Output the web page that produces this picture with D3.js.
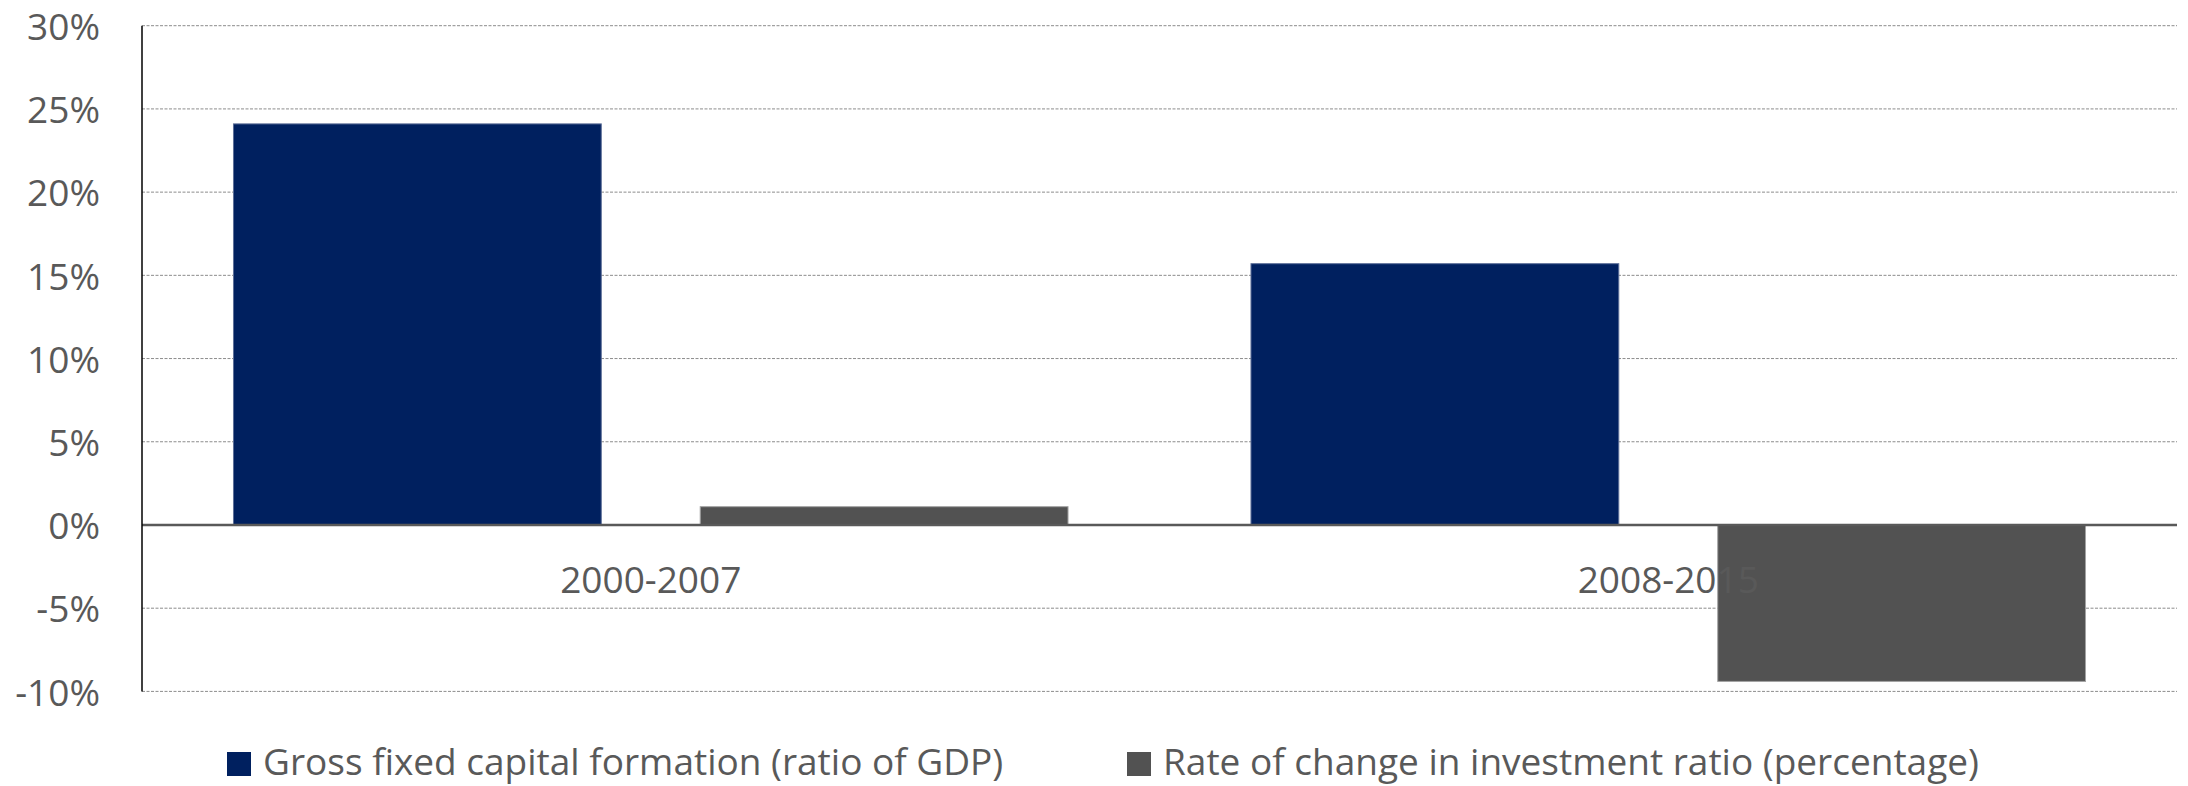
<!doctype html>
<html>
  <head>
    <meta charset="utf-8">
    <title>Investment ratio</title>
    <script src="https://cdnjs.cloudflare.com/ajax/libs/d3/7.8.5/d3.min.js"></script>
    <style>
      html, body {
        margin: 0;
        padding: 0;
        background: #fff;
      }
      svg {
        display: block;
        font-family: "Open Sans", sans-serif;
      }
    </style>
  </head>

  <body>
    <div id="chart"></div>

    <script>
      // values (percent)
      const categories = ['2000-2007', '2008-2015'];
      const seriesNames = [
        'Gross fixed capital formation (ratio of GDP)',
        'Rate of change in investment ratio (percentage)'
      ];
      const gfcfRatio = [24.1, 15.7];
      const rateOfChange = [1.1, -9.4];
      const yTicks = [-10, -5, 0, 5, 10, 15, 20, 25, 30];

      const colors = ['#00205f', '#525252'];
      const strokes = ['#5d6f98', '#a3a3a3'];

      const width = 2188, height = 786;
      const margin = { top: 25.7, right: 11, bottom: 94.6, left: 142 };

      const rows = categories.map((c, i) => ({
        category: c,
        values: [gfcfRatio[i], rateOfChange[i]]
      }));

      const svg = d3.select('#chart')
        .append('svg')
        .attr('width', width)
        .attr('height', height);

      const x0 = d3.scaleBand()
        .domain(categories)
        .range([margin.left, width - margin.right])
        .padding(0);

      const x1 = d3.scaleBand()
        .domain(d3.range(seriesNames.length))
        .range([0, x0.bandwidth()])
        .paddingInner(0.212)
        .paddingOuter(0.196);

      const y = d3.scaleLinear()
        .domain([d3.min(yTicks), d3.max(yTicks)])
        .range([height - margin.bottom, margin.top]);

      // gridlines (dashed), zero line drawn later as solid
      svg.append('g')
        .selectAll('line')
        .data(yTicks.filter(d => d !== 0))
        .join('line')
        .attr('x1', margin.left)
        .attr('x2', width - margin.right)
        .attr('y1', d => y(d))
        .attr('y2', d => y(d))
        .attr('stroke', '#8c8c8c')
        .attr('stroke-width', 1)
        .attr('stroke-dasharray', '3,1.5');

      // y axis labels
      const yAxis = d3.axisLeft(y)
        .tickValues(yTicks)
        .tickSize(0)
        .tickPadding(42)
        .tickFormat(d => d + '%');

      svg.append('g')
        .attr('transform', `translate(${margin.left},0)`)
        .call(yAxis)
        .call(g => g.select('.domain').remove())
        .selectAll('text')
        .attr('dy', '0.37em')
        .attr('fill', '#595959')
        .attr('font-size', 37)
        .attr('font-family', '"Open Sans", sans-serif');

      // bars
      const groups = svg.append('g')
        .selectAll('g')
        .data(rows)
        .join('g')
        .attr('transform', d => `translate(${x0(d.category)},0)`);

      groups.selectAll('rect')
        .data(d => d.values.map((v, i) => ({ v, i })))
        .join('rect')
        .attr('x', d => x1(d.i))
        .attr('width', x1.bandwidth())
        .attr('y', d => y(Math.max(0, d.v)))
        .attr('height', d => Math.abs(y(d.v) - y(0)))
        .attr('fill', d => colors[d.i])
        .attr('stroke', d => strokes[d.i])
        .attr('stroke-width', 1);

      // zero line
      svg.append('line')
        .attr('x1', margin.left)
        .attr('x2', width - margin.right)
        .attr('y1', y(0))
        .attr('y2', y(0))
        .attr('stroke', '#595959')
        .attr('stroke-width', 2.5);

      // y axis line
      svg.append('line')
        .attr('x1', margin.left)
        .attr('x2', margin.left)
        .attr('y1', y(d3.max(yTicks)))
        .attr('y2', y(d3.min(yTicks)))
        .attr('stroke', '#000')
        .attr('stroke-width', 1.5);

      // category labels (drawn over the bars, like the original)
      svg.append('g')
        .selectAll('text')
        .data(categories)
        .join('text')
        .attr('x', d => x0(d) + x0.bandwidth() / 2)
        .attr('y', 593)
        .attr('text-anchor', 'middle')
        .attr('fill', '#595959')
        .attr('font-size', 37)
        .text(d => d);

      // legend
      const legendX = [227, 1127];
      const legend = svg.append('g')
        .selectAll('g')
        .data(seriesNames)
        .join('g')
        .attr('transform', (d, i) => `translate(${legendX[i]},764)`);

      legend.append('rect')
        .attr('x', 0)
        .attr('y', -12)
        .attr('width', 24)
        .attr('height', 24)
        .attr('fill', (d, i) => colors[i]);

      legend.append('text')
        .attr('x', 36)
        .attr('y', 11)
        .attr('fill', '#595959')
        .attr('font-size', 37)
        .text(d => d);
    </script>
  </body>
</html>
